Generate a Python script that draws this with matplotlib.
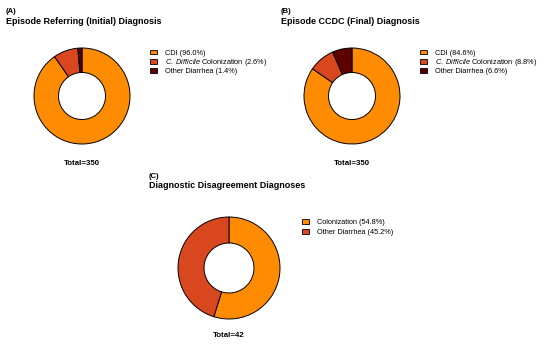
import matplotlib
matplotlib.use("Agg")
import matplotlib.pyplot as plt

plt.rcParams['font.family'] = ['Liberation Sans', 'DejaVu Sans']
plt.rcParams['mathtext.fontset'] = 'custom'
plt.rcParams['mathtext.rm'] = 'Liberation Sans'
plt.rcParams['mathtext.it'] = 'Liberation Sans:italic'

# Data
a_labels = ["CDI (96.0%)", r"$\it{C.\ Difficile}$ Colonization (2.6%)", "Other Diarrhea (1.4%)"]
a_values = [90.3, 8.3, 1.4]
b_labels = ["CDI (84.6%)", r"$\it{C.\ Difficile}$ Colonization (8.8%)", "Other Diarrhea (6.6%)"]
b_values = [84.6, 8.8, 6.6]
c_labels = ["Colonization (54.8%)", "Other Diarrhea (45.2%)"]
c_values = [54.8, 45.2]
colors3 = ["#FF8C00", "#D9471F", "#5E0000"]
colors2 = ["#FF8C00", "#D9471F"]

W, H = 550, 352
fig = plt.figure(figsize=(W/100, H/100), dpi=100)

def fx(x): return x / W
def fy(y): return 1 - y / H

def donut(cx, cy, R, values, colors, labels, legx, legy, lspace, total, tag, title, tagx, tagy):
    ax = fig.add_axes([fx(cx - R), fy(cy + R), 2*R/W, 2*R/H])
    wedges, _ = ax.pie(values, colors=colors, startangle=90, counterclock=False,
                       radius=1, wedgeprops=dict(width=0.51, edgecolor='black', linewidth=0.7))
    for w in wedges:
        w.set_clip_on(False)
    ax.set_xlim(-1, 1)
    ax.set_ylim(-1, 1)
    ax.set_aspect('equal')
    ax.axis('off')
    leg = fig.legend(wedges, labels, loc='upper left', bbox_to_anchor=(fx(legx), fy(legy)),
                     frameon=False, fontsize=5.3, borderpad=0, borderaxespad=0,
                     handlelength=1.0, handleheight=0.65, handletextpad=1.0, labelspacing=lspace)
    for p in leg.legend_handles:
        p.set_edgecolor('black')
        p.set_linewidth(0.6)
    fig.text(fx(cx), fy(cy + 67.3), total, ha='center', va='center', fontsize=5.7, fontweight='bold')
    fig.text(fx(tagx), fy(tagy), tag, ha='left', va='center', fontsize=5.5, fontweight='bold')
    fig.text(fx(tagx), fy(tagy + 10), title, ha='left', va='center', fontsize=6.5, fontweight='bold')

donut(82, 96, 48, a_values, colors3, a_labels, 150, 49.5, 0.06, "Total=350", "(A)",
      "Episode Referring (Initial) Diagnosis", 6, 11.7)
donut(352, 96, 48, b_values, colors3, b_labels, 420, 49.5, 0.06, "Total=350", "(B)",
      "Episode CCDC (Final) Diagnosis", 281, 11.7)
donut(229, 268, 51, c_values, colors2, c_labels, 302, 219, 0.45, "Total=42", "(C)",
      "Diagnostic Disagreement Diagnoses", 149, 176)

fig.savefig("out.png", dpi=100)
